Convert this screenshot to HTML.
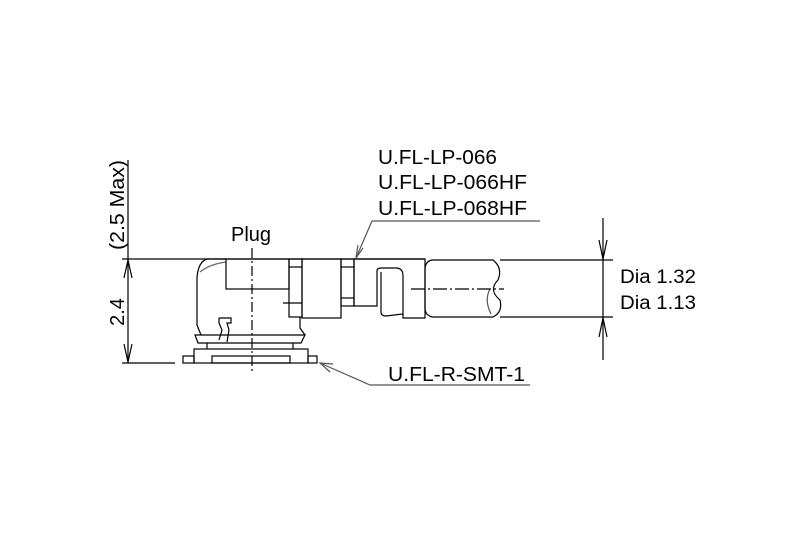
<!DOCTYPE html>
<html><head><meta charset="utf-8"><style>
html,body{margin:0;padding:0;background:#fff;}
svg{display:block;}
text{font-family:"Liberation Sans",Arial,sans-serif;fill:#000;}
</style></head><body>
<svg width="800" height="534" viewBox="0 0 800 534" xmlns="http://www.w3.org/2000/svg">
<g fill="none" stroke="#000" stroke-width="1.2">
<line x1="128" y1="160" x2="128" y2="363"/>
<line x1="122" y1="259" x2="425" y2="259"/>
<line x1="122" y1="363" x2="175" y2="363"/>
<polyline points="124,278 128,260 132,278"/>
<polyline points="124,344 128,362 132,344"/>
<line x1="252" y1="248" x2="252" y2="372" stroke-dasharray="10,3,2,3"/>
<path d="M226,259 L207,259 Q198,262 197,278 L197,325 L201,335"/>
<path d="M200,272 Q210,264 226,262" stroke="#666"/>
<rect x="226" y="259" width="63" height="30"/>
<rect x="289" y="259" width="13" height="58"/>
<line x1="289" y1="267" x2="302" y2="267"/>
<line x1="283" y1="303" x2="302" y2="303"/>
<path d="M300,317 L300,328 L305,335"/>
<rect x="302" y="259" width="39" height="59"/>
<rect x="341" y="259" width="13" height="47"/>
<line x1="341" y1="267" x2="354" y2="267"/>
<line x1="341" y1="298" x2="354" y2="298"/>
<path d="M354,259 L354,306 L377,306 L377,271 Q377,268 381,268 L396,268 Q403,268 403,276 L403,314 L386,316 Q381,316 381,312 L381,272" />
<path d="M403,259 L425,259 L425,318 L403,318 L403,314"/>
<line x1="354" y1="259" x2="403" y2="259"/>
<path d="M195,335 L305,335 L301,343 L198,343 Z"/>
<line x1="207" y1="343" x2="207" y2="349"/>
<line x1="293" y1="343" x2="293" y2="349"/>
<path d="M219,318 L231,318 L231,323 L227,323 L229,330 L227,342" />
<path d="M219,318 L219,323 L222,330 L219,340"/>
<rect x="194" y="349" width="114" height="14"/>
<rect x="183" y="356" width="11" height="7"/>
<rect x="308" y="356" width="9" height="7"/>
<rect x="212" y="356" width="78" height="7"/>
<path d="M432,260 L493,260 Q503,268 498,280 Q488,290 500,300 Q503,312 493,317 L432,317 Q425,315 425,308 L425,268 Q426,261 432,260"/>
<path d="M490,289 Q484,300 491,314" stroke="#555"/>
<line x1="500" y1="260" x2="613" y2="260"/>
<line x1="500" y1="317" x2="613" y2="317"/>
<line x1="411" y1="289" x2="504" y2="289" stroke-dasharray="14,3,2,3"/>
<line x1="603" y1="218" x2="603" y2="360"/>
<polyline points="599,240 603,259 607,240"/>
<polyline points="599,337 603,318 607,337"/>
<polyline points="540,221 372,221 356,258" stroke="#555"/>
<polyline points="358,245 356,258 363,248" stroke="#555"/>
<polyline points="530,385 370,385 320,363" stroke="#555"/>
<polyline points="333,364 320,363 330,372" stroke="#555"/>
</g>
<text x="231" y="241" font-size="20">Plug</text>
<text x="378" y="164" font-size="20" textLength="119" lengthAdjust="spacingAndGlyphs">U.FL-LP-066</text>
<text x="378" y="189" font-size="20" textLength="149" lengthAdjust="spacingAndGlyphs">U.FL-LP-066HF</text>
<text x="378" y="215" font-size="20" textLength="149" lengthAdjust="spacingAndGlyphs">U.FL-LP-068HF</text>
<text x="388" y="381" font-size="20" textLength="137" lengthAdjust="spacingAndGlyphs">U.FL-R-SMT-1</text>
<text x="620" y="283" font-size="19" textLength="76" lengthAdjust="spacingAndGlyphs">Dia 1.32</text>
<text x="620" y="309" font-size="19" textLength="76" lengthAdjust="spacingAndGlyphs">Dia 1.13</text>
<text transform="translate(124,312) rotate(-90)" font-size="20" text-anchor="middle">2.4</text>
<text transform="translate(124,205) rotate(-90)" font-size="20" text-anchor="middle" textLength="90" lengthAdjust="spacingAndGlyphs">(2.5 Max)</text>
</svg>
</body></html>
